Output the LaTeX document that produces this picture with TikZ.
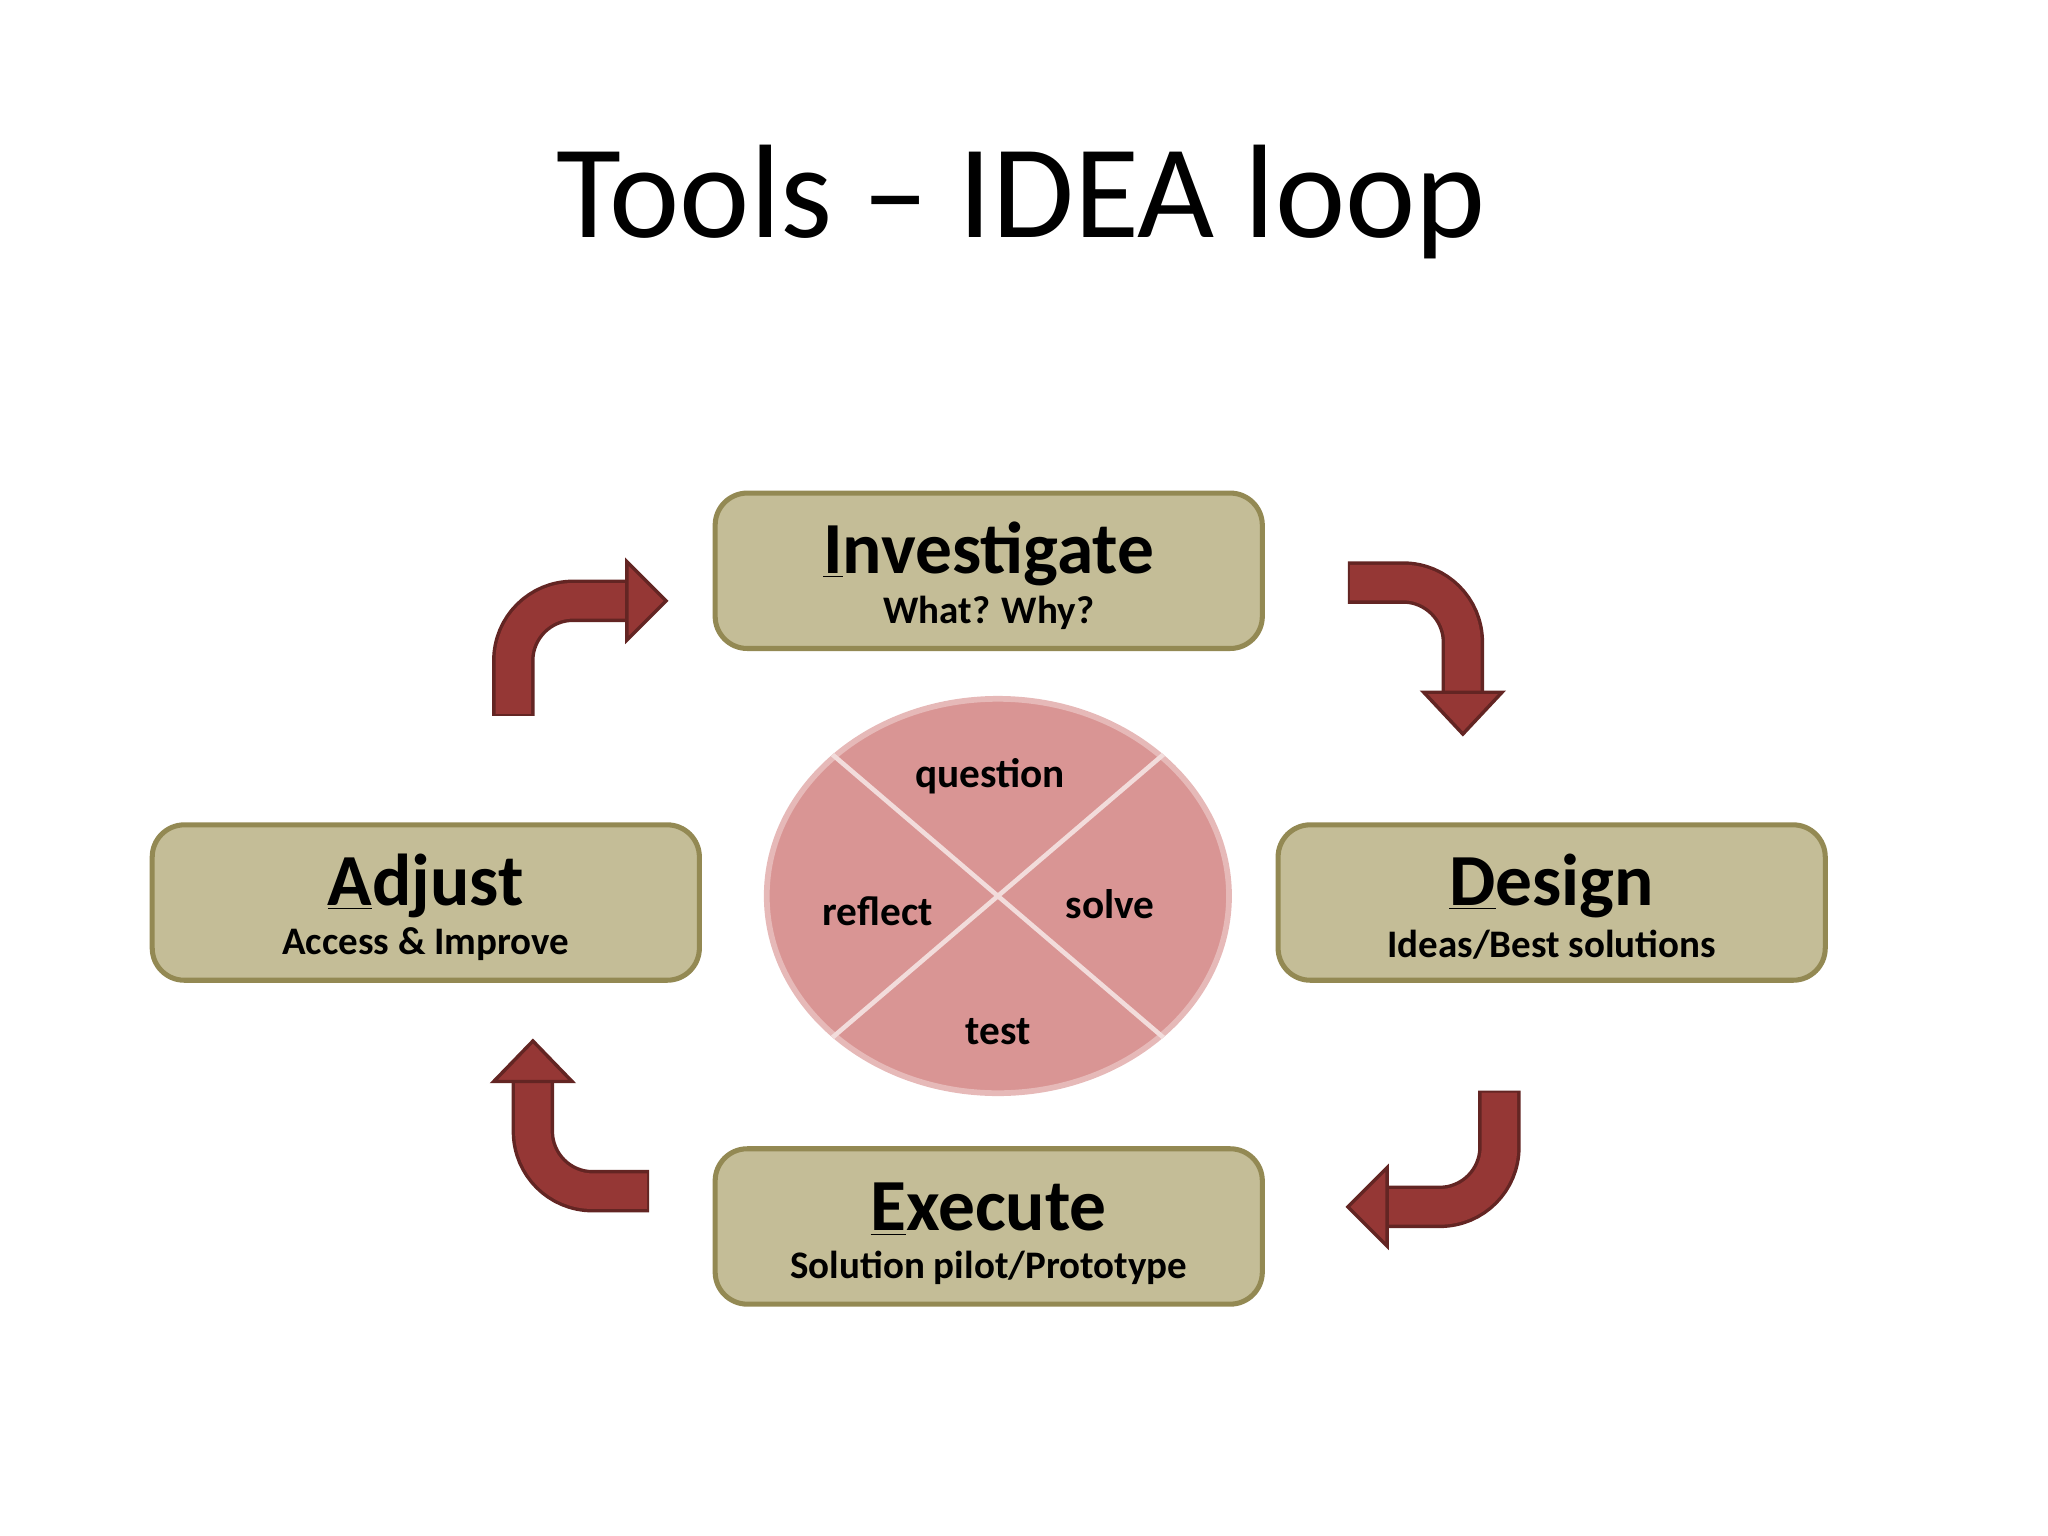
\documentclass[tikz,border=0pt]{standalone}
\usepackage{fontspec}
\usetikzlibrary{shapes.geometric}
\setmainfont{Carlito}
\definecolor{boxfill}{HTML}{C4BD97}
\definecolor{boxline}{HTML}{938953}
\definecolor{arrfill}{HTML}{953735}
\definecolor{arrline}{HTML}{632523}
\definecolor{elfill}{HTML}{D99594}
\definecolor{elline}{HTML}{E6B9B8}
\definecolor{crossline}{HTML}{F2DCDB}
\tikzset{
  stagebox/.style={draw=boxline, fill=boxfill, line width=2.2pt, rounded corners=14pt,
    minimum width=8.38cm, minimum height=2.38cm, inner sep=0pt},
  stagetitle/.style={font=\fontsize{32}{36}\selectfont\bfseries, inner sep=0pt},
  stagesub/.style={font=\fontsize{17}{20}\selectfont\bfseries, inner sep=0pt},
  qlabel/.style={font=\fontsize{18}{21}\selectfont\bfseries, inner sep=0pt},
  shaftout/.style={draw=arrline, line width=18.5pt, rounded corners=26pt},
  shaftin/.style={draw=arrfill, line width=15.5pt, rounded corners=26pt},
  headtri/.style={fill=arrfill, draw=arrline, line width=1.5pt, line join=miter},
}
\begin{document}
\begin{tikzpicture}[x=0.02cm, y=-0.02cm]
\useasboundingbox (0,0) rectangle (1568,1176);
\node[font=\fontsize{58}{64}\selectfont, inner sep=0pt] (title) at (782,155) {Tools – IDEA loop};

% boxes
\node[stagebox] (inv) at (757,437) {};
\node[stagebox] (adj) at (326,691) {};
\node[stagebox] (des) at (1188,691) {};
\node[stagebox] (exe) at (757,939) {};

\node[stagetitle] (invt) at (757,424) {\underline{I}nvestigate};
\node[stagesub] (invs) at (757,469) {What? Why?};
\node[stagetitle] (adjt) at (326,678) {\underline{A}djust};
\node[stagesub] (adjs) at (326,723) {Access \& Improve};
\node[stagetitle] (dest) at (1188,678) {\underline{D}esign};
\node[stagesub] (dess) at (1188,723) {Ideas/Best solutions};
\node[stagetitle] (exet) at (757,926) {\underline{E}xecute};
\node[stagesub] (exes) at (757,971) {Solution pilot/Prototype};

% ellipse
\node[draw=elline, fill=elfill, line width=2.5pt, ellipse, minimum width=7.08cm, minimum height=6.04cm, inner sep=0pt] (el) at (764,686) {};
\draw[crossline, line width=2pt] (el.north west) -- (el.south east);
\draw[crossline, line width=2pt] (el.north east) -- (el.south west);
\node[qlabel] (q1) at (758,594) {question};
\node[qlabel] (q2) at (672,698) {reflect};
\node[qlabel] (q3) at (850,692) {solve};
\node[qlabel] (q4) at (764,790) {test};

% arrow 1 (Adjust -> Investigate)
\draw[shaftout] (393,548) -- (393,460) -- (484,460);
\draw[shaftin] (393,546.5) -- (393,460) -- (484,460);
\draw[headtri] (480,430) -- (510,460) -- (480,490) -- cycle;
% arrow 2 (Investigate -> Design)
\draw[shaftout] (1032,446) -- (1120,446) -- (1120,534);
\draw[shaftin] (1033.5,446) -- (1120,446) -- (1120,534);
\draw[headtri] (1090,530) -- (1120,562) -- (1150,530) -- cycle;
% arrow 3 (Design -> Execute)
\draw[shaftout] (1148,835) -- (1148,924) -- (1058,924);
\draw[shaftin] (1148,836.5) -- (1148,924) -- (1058,924);
\draw[headtri] (1062,894) -- (1032,924) -- (1062,954) -- cycle;
% arrow 4 (Execute -> Adjust)
\draw[shaftout] (497,912) -- (408,912) -- (408,824);
\draw[shaftin] (495.5,912) -- (408,912) -- (408,824);
\draw[headtri] (378,828) -- (408,797) -- (438,828) -- cycle;
\end{tikzpicture}
\end{document}
